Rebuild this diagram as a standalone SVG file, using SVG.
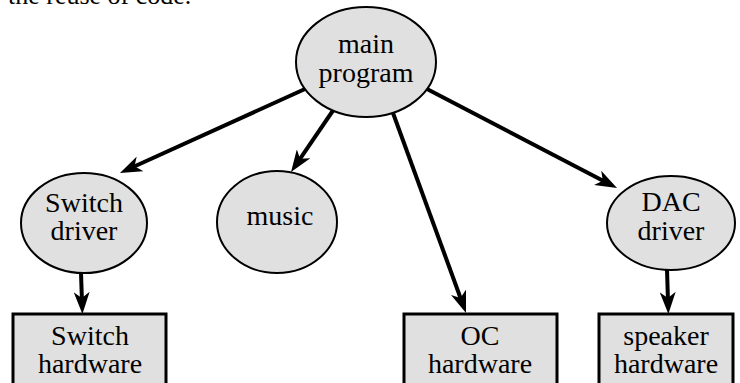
<svg xmlns="http://www.w3.org/2000/svg" width="740" height="383" viewBox="0 0 740 383">
<style>
text{font-family:"Liberation Serif","Times New Roman",serif;font-size:28px;fill:#000;text-anchor:middle}
.n{fill:#e0e0e0;stroke:#000;stroke-width:2}
.b{fill:#e0e0e0;stroke:#000;stroke-width:3}
.c{stroke:#000;stroke-width:4;fill:none;marker-end:url(#ah)}
</style>
<defs>
<marker id="ah" viewBox="0 0 22 16" markerWidth="22" markerHeight="16" refX="10" refY="8" orient="auto" markerUnits="userSpaceOnUse">
<path d="M22,8 L0,0 L6,8 L0,16 Z" fill="#000"/>
</marker>
</defs>
<rect width="740" height="383" fill="#fff"/>
<text x="8" y="3.5" style="text-anchor:start;font-size:26px">the reuse of code.</text>
<g id="main">
<ellipse class="n" cx="366" cy="62" rx="70" ry="55"/>
<text x="366" y="53">main</text>
<text x="366" y="82">program</text>
</g>
<g id="switch-driver">
<ellipse class="n" cx="84" cy="223" rx="63" ry="50"/>
<text x="84" y="212">Switch</text>
<text x="84" y="240">driver</text>
</g>
<g id="music">
<ellipse class="n" cx="277" cy="222" rx="60" ry="51"/>
<text x="280" y="225">music</text>
</g>
<g id="dac-driver">
<ellipse class="n" cx="671" cy="223" rx="64" ry="47"/>
<text x="671" y="211">DAC</text>
<text x="671" y="240">driver</text>
</g>
<g id="switch-hw">
<rect class="b" x="13" y="314" width="153" height="80"/>
<text x="90" y="345">Switch</text>
<text x="90" y="373">hardware</text>
</g>
<g id="oc-hw">
<rect class="b" x="404" y="314" width="153" height="80"/>
<text x="480" y="345">OC</text>
<text x="480" y="373">hardware</text>
</g>
<g id="speaker-hw">
<rect class="b" x="599" y="314" width="134" height="80"/>
<text x="666" y="345">speaker</text>
<text x="666" y="373">hardware</text>
</g>
<g id="connectors">
<line class="c" x1="305" y1="89" x2="130.9" y2="168"/>
<line class="c" x1="333" y1="110.5" x2="297.8" y2="162.1"/>
<line class="c" x1="393" y1="113" x2="461.9" y2="301.7"/>
<line class="c" x1="427" y1="89" x2="606.4" y2="182.5"/>
<line class="c" x1="81" y1="273" x2="82" y2="302"/>
<line class="c" x1="667" y1="269" x2="668" y2="302"/>
</g>
</svg>
